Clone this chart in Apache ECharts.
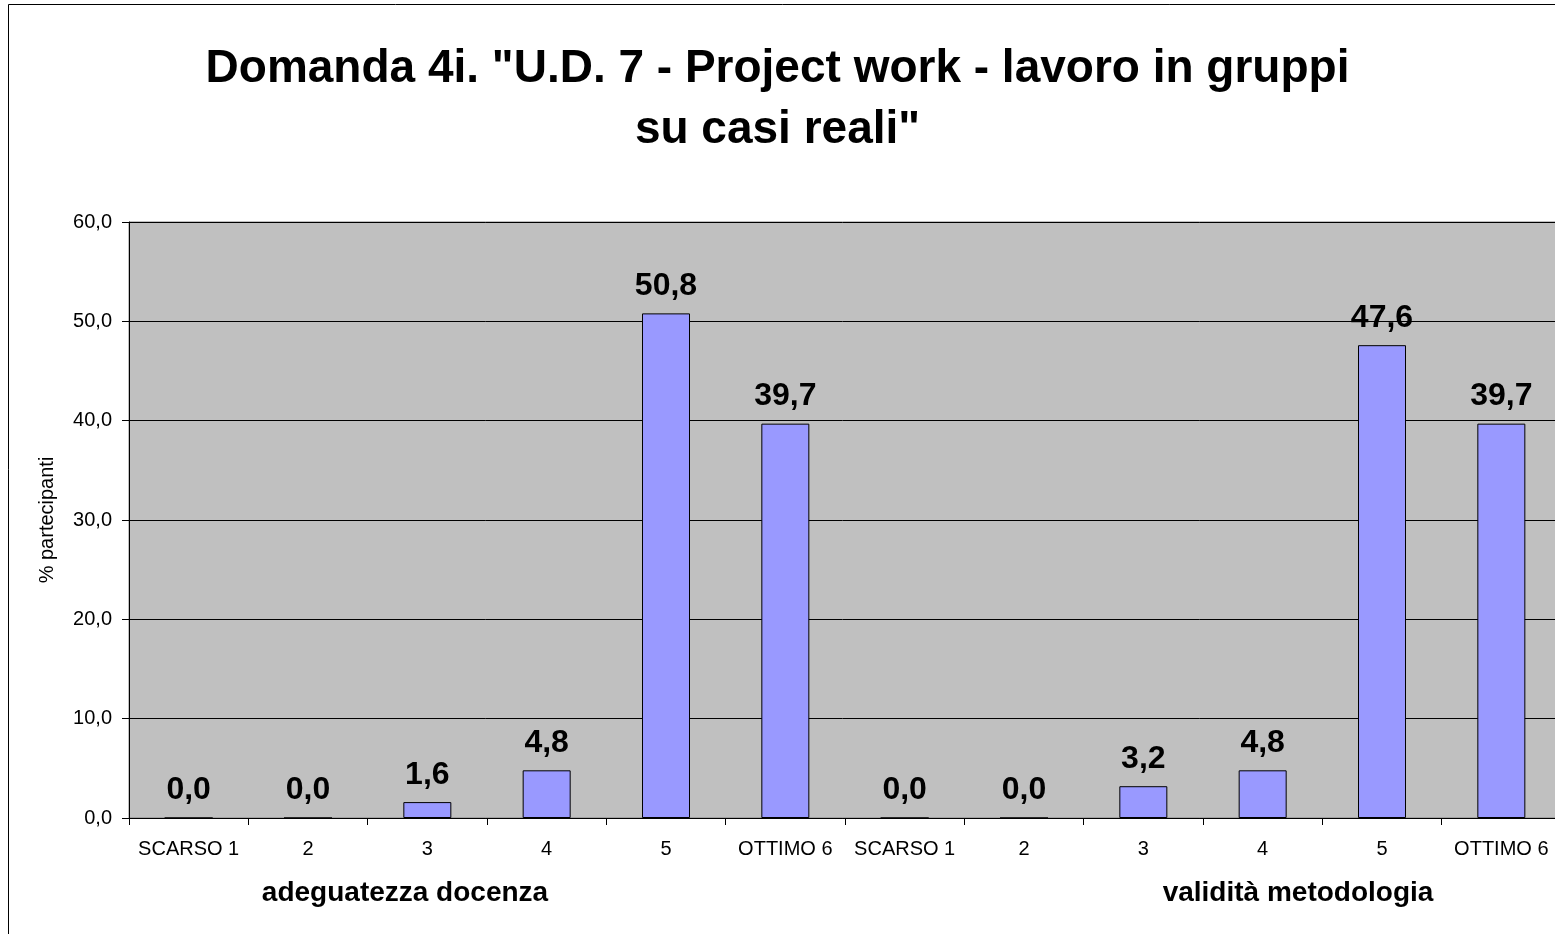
<!DOCTYPE html>
<html>
<head>
<meta charset="utf-8">
<script src="https://cdn.jsdelivr.net/npm/echarts@6/dist/echarts.min.js"></script>
<style>
  html, body { margin: 0; padding: 0; background: #fff; }
  #chart { width: 1555px; height: 934px; }
</style>
</head>
<body>
<div id="chart"></div>
<script>
// valori (% partecipanti)
const scale = ['SCARSO 1', '2', '3', '4', '5', 'OTTIMO 6']
const docenza = [0.0, 0.0, 1.6, 4.8, 50.8, 39.7]
const metodologia = [0.0, 0.0, 3.2, 4.8, 47.6, 39.7]
const groups = ['adeguatezza docenza', 'validità metodologia']
const titleText = 'Domanda 4i. "U.D. 7 - Project work - lavoro in gruppi\nsu casi reali"'

const categories = scale.concat(scale)
const values = docenza.concat(metodologia)

const font = "'Liberation Sans', Arial, sans-serif"
const fmt = v => v.toFixed(1).replace('.', ',')

const chart = echarts.init(document.getElementById('chart'))

chart.setOption({
  animation: false,
  title: {
    text: titleText,
    left: 'center',
    top: 34,
    textStyle: {
      fontFamily: font,
      fontSize: 46,
      fontWeight: 'bold',
      color: '#000',
      lineHeight: 61
    }
  },
  grid: {
    left: 129,
    top: 222,
    width: 1432,
    height: 596,
    outerBoundsMode: 'none',
    show: true,
    backgroundColor: '#C0C0C0',
    borderColor: '#808080',
    borderWidth: 1
  },
  xAxis: {
    type: 'category',
    data: categories,
    axisLine: { lineStyle: { color: '#000', width: 1 } },
    axisTick: { show: true, length: 7, lineStyle: { color: '#000' } },
    axisLabel: {
      interval: 0,
      margin: 21,
      fontFamily: font,
      fontSize: 20,
      color: '#000'
    }
  },
  yAxis: {
    type: 'value',
    min: 0,
    max: 60,
    interval: 10,
    name: '% partecipanti',
    nameLocation: 'middle',
    nameGap: 72,
    nameTextStyle: { fontFamily: font, fontSize: 20, color: '#000' },
    axisLine: { show: true, lineStyle: { color: '#000', width: 1 } },
    axisTick: { show: true, length: 7, lineStyle: { color: '#000' } },
    axisLabel: {
      margin: 17,
      fontFamily: font,
      fontSize: 20,
      color: '#000',
      formatter: v => fmt(v)
    },
    splitLine: { show: true, lineStyle: { color: '#000', width: 1 } }
  },
  series: [{
    type: 'bar',
    data: values,
    barWidth: 48,
    itemStyle: {
      color: '#9999FF',
      borderColor: '#000',
      borderWidth: 1
    },
    label: {
      show: true,
      position: 'top',
      distance: 11,
      fontFamily: font,
      fontSize: 32,
      fontWeight: 'bold',
      color: '#000',
      formatter: p => fmt(p.value)
    }
  }],
  graphic: [
    {
      type: 'rect',
      shape: { x: 8.5, y: 4.5, width: 1600, height: 1000 },
      style: { fill: null, stroke: '#000', lineWidth: 1 },
      silent: true
    },
    {
      type: 'text',
      x: 405,
      y: 893,
      style: { text: groups[0], fontFamily: font, fontSize: 28, fontWeight: 'bold', fill: '#000', align: 'center', verticalAlign: 'middle' }
    },
    {
      type: 'text',
      x: 1298,
      y: 893,
      style: { text: groups[1], fontFamily: font, fontSize: 28, fontWeight: 'bold', fill: '#000', align: 'center', verticalAlign: 'middle' }
    }
  ]
})
</script>
</body>
</html>
